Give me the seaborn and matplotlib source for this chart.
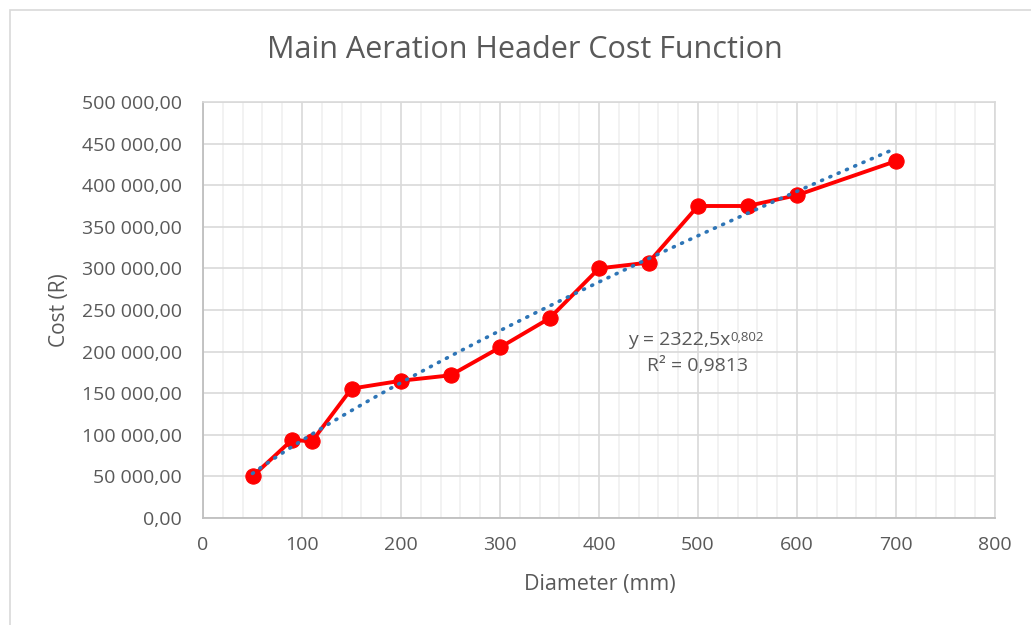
import numpy as np
import pandas as pd
import matplotlib
matplotlib.use("Agg")
import matplotlib.pyplot as plt
from matplotlib.ticker import FuncFormatter, MultipleLocator
from matplotlib.patches import Rectangle
import seaborn as sns

# Header diameters (mm) and installed cost (R)
diameter_mm = [50, 90, 110, 150, 200, 250, 300, 350, 400, 450, 500, 550, 600, 700]
cost_r = [50000, 94000, 92000, 155500, 165000, 171500, 205000, 240000,
          300000, 307000, 375000, 375000, 388000, 429000]

# Power trendline y = a * x^b
trend_a = 2322.5
trend_b = 0.802
r_squared = 0.9813

title = "Main Aeration Header Cost Function"
x_label = "Diameter (mm)"
y_label = "Cost (R)"

sns.set_theme(style="white")
plt.rcParams["font.family"] = ["Open Sans", "DejaVu Sans"]

TEXT = "#595959"
df = pd.DataFrame({"Diameter": diameter_mm, "Cost": cost_r})

fig = plt.figure(figsize=(10.31, 6.25), dpi=100)
fig.patch.set_facecolor("white")
fig.patches.append(Rectangle((10 / 1031, -0.01), 1.2, 1 - 10 / 625 + 0.01,
                             transform=fig.transFigure, fill=False,
                             edgecolor="#D9D9D9", linewidth=1.2))

ax = fig.add_axes([203 / 1031, 1 - 518 / 625, (995 - 203) / 1031, (518 - 102) / 625])

# trendline over the data range
xs = np.linspace(min(diameter_mm), max(diameter_mm), 200)
ax.plot(xs, trend_a * xs ** trend_b, color="#2E75B6", linewidth=2.6,
        linestyle=(0, (0.3, 2.2)), dash_capstyle="round", zorder=4)

sns.lineplot(data=df, x="Diameter", y="Cost", ax=ax, color="#FF0000",
             linewidth=2.8, marker="o", markersize=11, markeredgecolor="#FF0000",
             zorder=3)

ax.set_xlim(0, 800)
ax.set_ylim(0, 500000)
ax.xaxis.set_major_locator(MultipleLocator(100))
ax.xaxis.set_minor_locator(MultipleLocator(20))
ax.yaxis.set_major_locator(MultipleLocator(50000))
ax.yaxis.set_major_formatter(FuncFormatter(
    lambda v, p: f"{v:,.2f}".replace(",", " ").replace(".", ",")))

ax.grid(which="major", axis="both", color="#D9D9D9", linewidth=1.2)
ax.grid(which="minor", axis="x", color="#F0F0F0", linewidth=1.2)
ax.set_axisbelow(True)
for side in ["left", "bottom"]:
    ax.spines[side].set_color("#BFBFBF")
    ax.spines[side].set_linewidth(1.3)
for side in ["top", "right"]:
    ax.spines[side].set_color("#D9D9D9")
    ax.spines[side].set_linewidth(1.2)

ax.tick_params(axis="both", which="both", length=0, labelsize=14,
               labelcolor=TEXT)
ax.tick_params(axis="x", pad=13)
ax.tick_params(axis="y", pad=15)
ax.set_xlabel(x_label, fontsize=15.5, color=TEXT)
ax.set_ylabel(y_label, fontsize=15, color=TEXT)
ax.xaxis.set_label_coords(0.501, -56 / 416)
ax.yaxis.set_label_coords(-133 / 792, 0.5)
fig.text(525 / 1031, 1 - 50 / 625, title, fontsize=22, color=TEXT,
         ha="center", va="center")

eq = ax.text(429, 214000, f"y = {trend_a:.1f}".replace(".", ",") + "x",
             fontsize=14, color=TEXT, ha="left", va="center")
ax.annotate(f"{trend_b:.3f}".replace(".", ","), xy=(1, 0.98), xycoords=eq,
            fontsize=9.5, color=TEXT, ha="left", va="top")
ax.text(499, 182500, f"R² = {r_squared:.4f}".replace(".", ","),
        fontsize=14, color=TEXT, ha="center", va="center")

fig.savefig("out.png", dpi=100)
